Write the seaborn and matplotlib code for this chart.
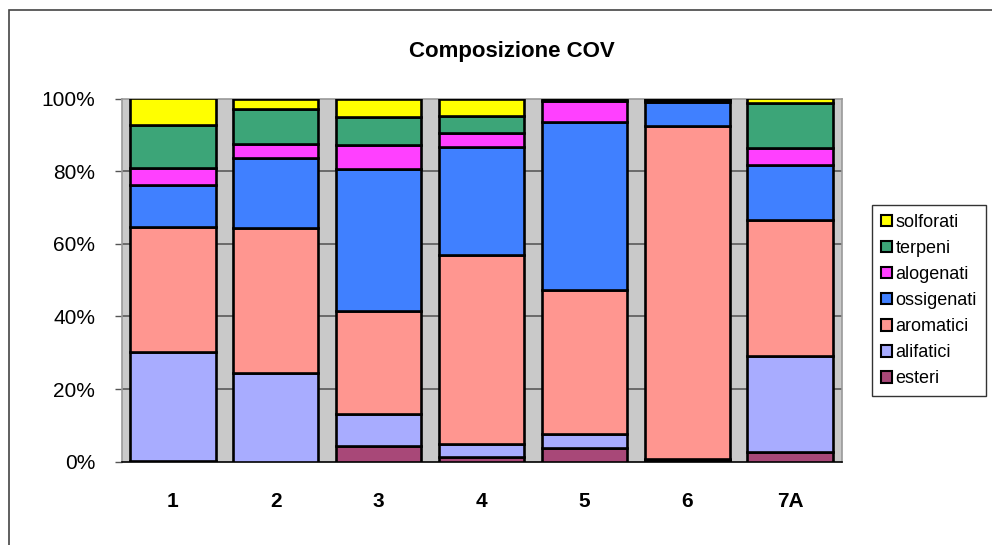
import matplotlib
matplotlib.use("Agg")
import matplotlib.pyplot as plt
import seaborn as sns
import numpy as np
import pandas as pd
from matplotlib.patches import Patch, Rectangle

# ---- data ----
categories = ["1", "2", "3", "4", "5", "6", "7A"]
series_names = ["esteri", "alifatici", "aromatici", "ossigenati", "alogenati", "terpeni", "solforati"]
esteri     = [0.3, 0.0, 4.4, 1.2, 3.8, 0.5, 2.6]
alifatici  = [29.8, 24.5, 8.8, 3.8, 3.9, 0.2, 26.5]
aromatici  = [34.6, 39.8, 28.4, 51.8, 39.7, 91.6, 37.5]
ossigenati = [11.5, 19.4, 39.1, 29.8, 46.0, 6.8, 15.1]
alogenati  = [4.6, 3.9, 6.4, 3.9, 5.9, 0.5, 4.7]
terpeni    = [12.0, 9.4, 7.8, 4.7, 0.5, 0.2, 12.3]
solforati  = [7.2, 3.0, 5.1, 4.8, 0.2, 0.2, 1.3]
y_ticks = [0, 20, 40, 60, 80, 100]
y_tick_labels = ["0%", "20%", "40%", "60%", "80%", "100%"]

colors = {
    "esteri": "#A84878",
    "alifatici": "#A8ACFF",
    "aromatici": "#FF9690",
    "ossigenati": "#4080FF",
    "alogenati": "#FF40FF",
    "terpeni": "#3CA578",
    "solforati": "#FFFF00",
}

values = {
    "esteri": esteri, "alifatici": alifatici, "aromatici": aromatici,
    "ossigenati": ossigenati, "alogenati": alogenati, "terpeni": terpeni,
    "solforati": solforati,
}

sns.set_theme(style="white")
plt.rcParams["font.family"] = ["Liberation Sans", "DejaVu Sans"]
plt.rcParams["text.color"] = "black"
plt.rcParams["xtick.color"] = "black"
plt.rcParams["ytick.color"] = "black"
plt.rcParams["xtick.labelcolor"] = "black"
plt.rcParams["ytick.labelcolor"] = "black"

W, H = 992, 545
fig = plt.figure(figsize=(W / 100, H / 100), dpi=100)
ax = fig.add_axes([121.5 / W, 1 - 461.7 / H, (841.5 - 121.5) / W, (461.7 - 98.5) / H])
ax.set_facecolor("#C9C9C9")

# normalise to 100%
mat = np.array([values[s] for s in series_names], dtype=float)
mat = mat / mat.sum(axis=0) * 100
bottom = np.zeros(len(categories))
for i, s in enumerate(series_names):
    df = pd.DataFrame({"cat": categories, "val": mat[i]})
    sns.barplot(data=df, x="cat", y="val", order=categories, color=colors[s],
                saturation=1, errorbar=None, width=0.83, bottom=bottom,
                edgecolor="black", linewidth=1.9, ax=ax, zorder=3)
    bottom = bottom + mat[i]

ax.set_xlim(-0.5, len(categories) - 0.5)
ax.set_ylim(0, 100)
ax.set_xlabel("")
ax.set_ylabel("")
ax.set_yticks(y_ticks)
ax.set_yticklabels(y_tick_labels, fontsize=15, color="black")
for yv in y_ticks[1:-1]:
    ax.axhline(yv, color="#5A5A5A", linewidth=1.2, zorder=1)

ax.set_xticks(range(len(categories)))
ax.set_xticklabels(categories, fontsize=15, fontweight="bold", color="black")
ax.set_xticks(np.arange(-0.5, len(categories)), minor=True)
ax.tick_params(axis="x", which="major", length=0, pad=22)
ax.tick_params(axis="x", which="minor", length=5, width=1, color="#333333", direction="out")
ax.tick_params(axis="y", which="major", length=5, width=1, color="#555555", direction="out", pad=14, left=True)

for side in ["top", "right", "left"]:
    ax.spines[side].set_color("#999999")
    ax.spines[side].set_linewidth(1.2)
ax.spines["bottom"].set_color("black")
ax.spines["bottom"].set_linewidth(1.2)

fig.text(512 / W, 1 - 52 / H, "Composizione COV", ha="center", va="center",
         fontsize=16, fontweight="bold", color="black")

handles = [Patch(facecolor=colors[s], edgecolor="black", linewidth=1.5, label=s)
           for s in reversed(series_names)]
leg = fig.legend(handles=handles, loc="upper left", bbox_to_anchor=(872 / W, 1 - 205 / H),
                 fontsize=13, frameon=True, fancybox=False, shadow=False,
                 handlelength=0.6, handleheight=0.6, handletextpad=0.2,
                 labelspacing=0.5, borderpad=0.5, borderaxespad=0)
leg.get_frame().set_edgecolor("black")
leg.get_frame().set_linewidth(1)
for t in leg.get_texts():
    t.set_color("black")

# outer chart border (cropped on right and bottom)
fig.patches.append(Rectangle((9 / W, -0.1), 1.2, 1.1 - 10 / H, transform=fig.transFigure,
                             fill=False, edgecolor="#444444", linewidth=1.2))

fig.savefig("out.png", dpi=100)
